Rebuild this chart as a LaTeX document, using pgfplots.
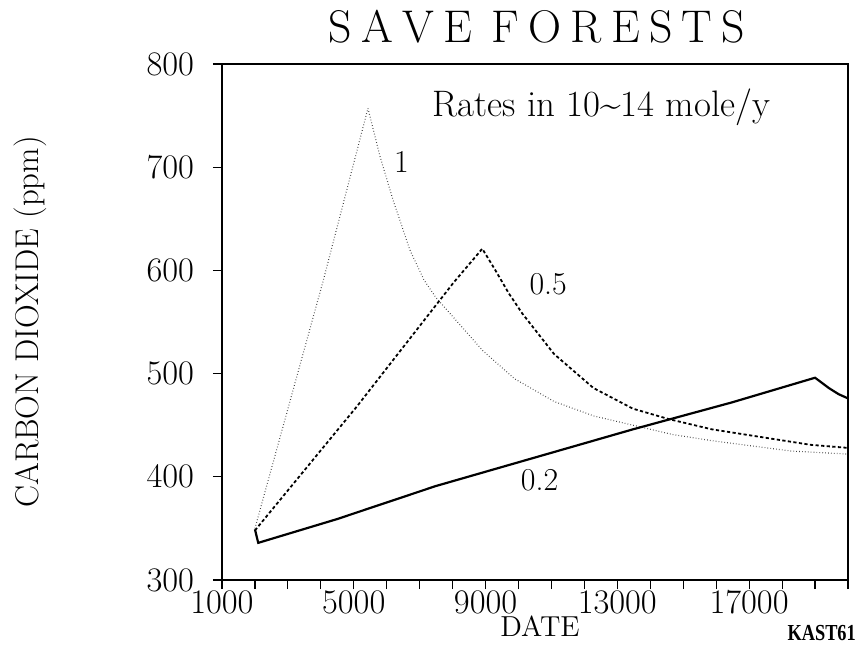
\documentclass[border=0pt]{standalone}
\usepackage{fontspec}
\usepackage{pgfplots}
\pgfplotsset{compat=1.18}
\newfontfamily\kastfont{Liberation Serif}
\begin{document}
\begin{tikzpicture}
\path[use as bounding box] (-111bp,-34bp) rectangle (319bp,290bp);
\begin{axis}[
  at={(0,0)}, anchor=south west,
  width=313bp, height=258bp, scale only axis,
  xmin=1000, xmax=20000, ymin=300, ymax=800,
  xtick={1000,5000,9000,13000,17000},
  minor xtick={2000,3000,...,20000},
  ytick={300,400,...,800},
  xtick pos=bottom, ytick pos=left,
  tick align=outside,
  major tick length=4.5bp, minor tick length=4.5bp,
  scaled ticks=false,
  xticklabel style={/pgf/number format/1000 sep={}, font=\fontsize{16}{19}\selectfont, yshift=2.5bp},
  yticklabel style={font=\fontsize{16}{19}\selectfont, xshift=-6bp},
  axis line style={line width=0.8pt},
  every tick/.style={black, line width=0.6pt},
  title={S\kern4.6bp A\kern4.6bp V\kern4.6bp E\kern10bp F\kern4.6bp O\kern4.6bp R\kern4.6bp E\kern4.6bp S\kern4.6bp T\kern4.6bp S},
  title style={at={(axis description cs:0.503,1.05)}, anchor=center, font=\fontsize{23}{27}\selectfont},
  xlabel={DATE},
  xlabel style={at={(axis description cs:0.508,-0.089)}, anchor=center, font=\fontsize{14.5}{17}\selectfont},
  ylabel={CARBON DIOXIDE (ppm)},
  ylabel style={at={(axis description cs:-0.307,0.5)}, anchor=center, font=\fontsize{16.5}{19}\selectfont},
  clip=false,
]
% rate 1 (dotted)
\addplot[black!75, line width=0.55pt, dash pattern=on 0.35bp off 1.1bp] coordinates {
(2000,350) (4072,590) (5430,757)
(5800,710) (6194,668) (6700,620) (7126,591) (7485,574) (8204,548)
(8922,522) (9880,495) (11078,473) (12275,459) (13473,450) (14671,441)
(15868,435) (17066,430) (18263,425) (20000,422)};
% rate 0.5 (dashed)
\addplot[black, line width=0.9pt, dash pattern=on 1.6bp off 1.2bp] coordinates {
(2000,348) (5090,468) (8024,588) (8900,621)
(9300,600) (9700,578) (10120,558) (11078,519) (12275,486) (13473,466)
(14550,456) (15868,446) (17066,440) (18862,431) (20000,428)};
% rate 0.2 (solid)
\addplot[black, line width=1.1pt] coordinates {
(2000,349) (2100,336) (4490,359) (7485,391) (9880,413) (13473,446)
(16467,472) (19000,496) (19419,486) (19719,480) (20000,476)};
\node[font=\fontsize{18.5}{22}\selectfont] at (axis cs:12515,758) {Rates in 10\textasciitilde14 mole/y};
\node[font=\fontsize{16}{19}\selectfont] at (axis cs:6450,705) {1};
\node[font=\fontsize{16}{19}\selectfont] at (axis cs:10900,587) {0.5};
\node[font=\fontsize{16}{19}\selectfont] at (axis cs:10640,397) {0.2};
\node at (axis description cs:0.958,-0.103) {\kastfont\bfseries\fontsize{10}{12}\selectfont\scalebox{0.92}[1.15]{KAST61}};
\end{axis}
\end{tikzpicture}
\end{document}
